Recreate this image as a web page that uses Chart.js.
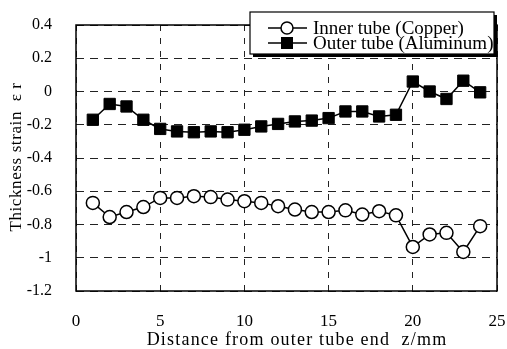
<!DOCTYPE html>
<html lang="en">
<head>
<meta charset="UTF-8">
<title>Thickness strain</title>
<script src="https://cdn.jsdelivr.net/npm/chart.js"></script>
<style>
  html, body { margin: 0; padding: 0; background: #fff; }
  #wrap { position: relative; width: 507px; height: 349px; }
</style>
</head>
<body>
<div id="wrap"><canvas id="strainChart"></canvas></div>
<script>
// distance from outer tube end (mm)
const positions = [1, 2, 3, 4, 5, 6, 7, 8, 9, 10, 11, 12, 13, 14, 15, 16, 17, 18, 19, 20, 21, 22, 23, 24];
const innerCopper = [-0.67, -0.755, -0.725, -0.695, -0.64, -0.64, -0.63, -0.635, -0.65, -0.66, -0.67, -0.69,
  -0.71, -0.725, -0.725, -0.715, -0.74, -0.72, -0.745, -0.935, -0.86, -0.85, -0.965, -0.81];
const outerAluminum = [-0.17, -0.075, -0.09, -0.17, -0.225, -0.24, -0.245, -0.24, -0.245, -0.23, -0.21, -0.195,
  -0.18, -0.175, -0.16, -0.12, -0.12, -0.15, -0.14, 0.06, 0, -0.045, 0.065, -0.005];
const seriesNames = ["Inner tube (Copper)", "Outer tube (Aluminum)"];
const xTicks = [0, 5, 10, 15, 20, 25];
const yTicks = [0.4, 0.2, 0, -0.2, -0.4, -0.6, -0.8, -1, -1.2];
const xTitle = "Distance from outer tube end  z/mm";
const yTitle = "Thickness strain  ε r";

const serif = "'Liberation Serif', 'DejaVu Serif', serif";

const toPoints = (vals) => vals.map((v, i) => ({ x: positions[i], y: v }));

// frame, axis titles (letter-spaced like the scan) and boxed legend with shadow
const frameLegend = {
  id: "frameLegend",
  afterDraw(chart) {
    const { ctx, chartArea: a } = chart;
    ctx.save();
    ctx.strokeStyle = "#000";
    ctx.lineWidth = 1.5;
    ctx.setLineDash([]);
    ctx.strokeRect(a.left, a.top, a.right - a.left, a.bottom - a.top);

    // axis titles
    ctx.fillStyle = "#000";
    ctx.textAlign = "center";
    ctx.textBaseline = "middle";
    ctx.font = "18px " + serif;
    ctx.letterSpacing = "1.2px";
    ctx.fillText(xTitle, 297, 340);
    ctx.save();
    ctx.translate(17, 157);
    ctx.rotate(-Math.PI / 2);
    ctx.font = "17px " + serif;
    ctx.letterSpacing = "0.6px";
    ctx.fillText(yTitle, 0, 0);
    ctx.restore();
    ctx.letterSpacing = "0px";

    // legend
    const bx = 250, by = 12, bw = 244, bh = 42;
    ctx.fillStyle = "#000";
    ctx.fillRect(bx + 3, by + 3, bw, bh);
    ctx.fillStyle = "#fff";
    ctx.fillRect(bx, by, bw, bh);
    ctx.lineWidth = 1.2;
    ctx.strokeRect(bx, by, bw, bh);

    ctx.font = "19px " + serif;
    ctx.textBaseline = "middle";
    chart.data.datasets.forEach((ds, i) => {
      const y = by + 16 + i * 15;
      ctx.strokeStyle = "#000";
      ctx.lineWidth = 1.5;
      ctx.beginPath();
      ctx.moveTo(bx + 18, y);
      ctx.lineTo(bx + 57, y);
      ctx.stroke();
      const cx = bx + 37;
      if (ds.pointStyle === "rect") {
        ctx.fillStyle = "#000";
        ctx.fillRect(cx - 6, y - 6, 12, 12);
      } else {
        ctx.fillStyle = "#fff";
        ctx.beginPath();
        ctx.arc(cx, y, 6, 0, Math.PI * 2);
        ctx.fill();
        ctx.stroke();
      }
      ctx.fillStyle = "#000";
      ctx.textAlign = "left";
      ctx.fillText(ds.label, bx + 63, y + 1);
    });
    ctx.restore();
  }
};

new Chart(document.getElementById("strainChart"), {
  type: "line",
  data: {
    datasets: [
      {
        label: seriesNames[0],
        data: toPoints(innerCopper),
        borderColor: "#000",
        borderWidth: 1.5,
        pointStyle: "circle",
        pointRadius: 6.5,
        pointBorderWidth: 1.5,
        pointBackgroundColor: "#fff",
        pointBorderColor: "#000",
        tension: 0
      },
      {
        label: seriesNames[1],
        data: toPoints(outerAluminum),
        borderColor: "#000",
        borderWidth: 1.5,
        pointStyle: "rect",
        pointRadius: 8,
        pointBorderWidth: 1,
        pointBackgroundColor: "#000",
        pointBorderColor: "#000",
        tension: 0
      }
    ]
  },
  options: {
    responsive: true,
    maintainAspectRatio: false,
    animation: false,
    layout: { autoPadding: false, padding: { top: 25, right: 10, left: 0, bottom: 0 } },
    plugins: {
      legend: { display: false },
      tooltip: { enabled: false }
    },
    scales: {
      x: {
        type: "linear",
        min: 0,
        max: 25,
        afterBuildTicks: (s) => { s.ticks = xTicks.map(v => ({ value: v })); },
        afterFit: (s) => { s.height = 58; s.paddingLeft = 0; s.paddingRight = 0; },
        ticks: { color: "#000", font: { family: serif, size: 17 }, padding: 20, maxRotation: 0 },
        grid: { color: "#222", lineWidth: 1, drawTicks: false },
        border: { display: false, dash: [6, 7] }
      },
      y: {
        min: -1.2,
        max: 0.4,
        afterBuildTicks: (s) => { s.ticks = yTicks.map(v => ({ value: v })); },
        afterFit: (s) => { s.width = 76; s.paddingTop = 0; s.paddingBottom = 0; },
        ticks: {
          color: "#000",
          font: { family: serif, size: 16 },
          padding: 24,
          callback: (v) => String(Number(v.toFixed(1)))
        },
        grid: { color: "#222", lineWidth: 1, drawTicks: false },
        border: { display: false, dash: [8, 6] }
      }
    }
  },
  plugins: [frameLegend]
});
</script>
</body>
</html>
